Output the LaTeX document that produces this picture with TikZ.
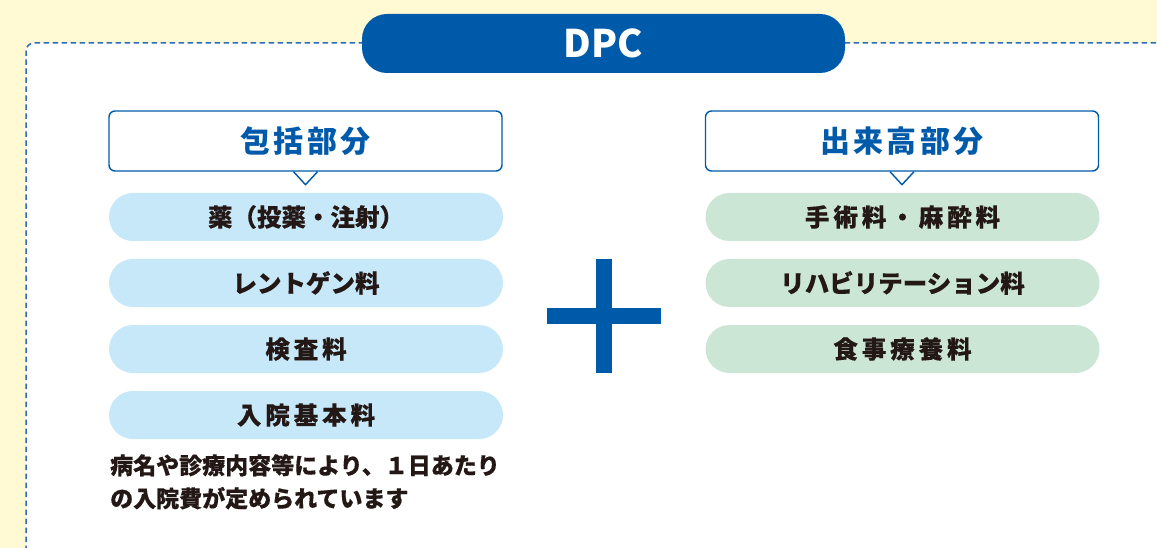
\documentclass[tikz,border=0pt]{standalone}
\usepackage{fontspec}
\setmainfont{Liberation Sans}
\newfontfamily\jp{Noto Sans CJK JP}
\newfontfamily\jpheavy{Noto Sans CJK JP}[FakeBold=0.4]
\definecolor{bgyellow}{HTML}{FFF9D4}
\definecolor{dpcblue}{HTML}{005AAA}
\definecolor{dashblue}{HTML}{2E6DB4}
\definecolor{pillblue}{HTML}{C7E8F8}
\definecolor{pillgreen}{HTML}{CCE6D6}
\definecolor{inkdark}{HTML}{231815}
\tikzset{
  pillL/.style={fill=pillblue, rounded corners=24pt, minimum width=394pt, minimum height=48pt, inner sep=0pt,
    font=\jpheavy\bfseries\fontsize{24.5pt}{28pt}\selectfont, text=inkdark},
  pillR/.style={pillL, fill=pillgreen},
  header/.style={draw=dpcblue, line width=1.4pt, fill=white, rounded corners=6pt, minimum width=393pt, minimum height=60pt,
    inner sep=0pt, font=\jp\bfseries\fontsize{30pt}{34pt}\selectfont, text=dpcblue},
  tailline/.style={draw=dpcblue, line width=1.4pt, line join=miter},
  plusbar/.style={fill=dpcblue, draw=none},
  note/.style={anchor=north west, align=left, inner sep=0pt, text=inkdark,
    font=\jpheavy\bfseries\fontsize{23pt}{33pt}\selectfont},
}
\newcommand{\wide}[1]{{\addfontfeature{LetterSpace=16}#1}}
\newcommand{\hwide}[1]{{\addfontfeature{LetterSpace=11}#1}}
\begin{document}
\begin{tikzpicture}[x=1pt,y=-1pt]
\useasboundingbox (0,0) rectangle (1157,548);
\fill[bgyellow] (0,0) rectangle (1157,548);
% dashed frame
\fill[white, rounded corners=8pt] (26,43) -- (1170,43) -- (1170,560) -- (26,560) -- cycle;
\draw[dashblue, line width=1.5pt, dash pattern=on 5.5pt off 3.5pt, rounded corners=8pt]
  (26,560) -- (26,43) -- (1170,43);
% DPC title
\node[fill=dpcblue, rounded corners=25pt, minimum width=483pt, minimum height=59pt, inner sep=0pt,
  text=white, font=\jp\bfseries\fontsize{38pt}{42pt}\selectfont] (dpc) at (603.5,43.5) {DPC};
% headers
\node[header] (hl) at (305.5,141) {\hwide{包括部分}};
\node[header] (hr) at (902,141) {\hwide{出来高部分}};
\fill[white] ([xshift=-12pt]hl.south) rectangle ([xshift=12pt,yshift=-1.2pt]hl.south);
\draw[tailline] ([xshift=-12pt]hl.south) -- ([yshift=-13pt]hl.south) -- ([xshift=12pt]hl.south);
\fill[white] ([xshift=-12pt]hr.south) rectangle ([xshift=12pt,yshift=-1.2pt]hr.south);
\draw[tailline] ([xshift=-12pt]hr.south) -- ([yshift=-13pt]hr.south) -- ([xshift=12pt]hr.south);
% left pills
\node[pillL] (l1) at (306,217) {薬（投薬・注射）};
\node[pillL] (l2) at (306,283) {レントゲン料};
\node[pillL] (l3) at (306,349) {\wide{検査料}};
\node[pillL] (l4) at (306,415) {\wide{入院基本料}};
% right pills
\node[pillR] (r1) at (902.5,217) {\wide{手術料・麻酔料}};
\node[pillR] (r2) at (902.5,283) {リハビリテーション料};
\node[pillR] (r3) at (902.5,349) {\wide{食事療養料}};
% plus sign
\fill[plusbar] (596,259) rectangle (612,373);
\fill[plusbar] (547,308) rectangle (661,324);
% note
\node[note] (nt) at (110,454) {病名や診療内容等により、１日あたり\\の入院費が定められています};
\end{tikzpicture}
\end{document}
